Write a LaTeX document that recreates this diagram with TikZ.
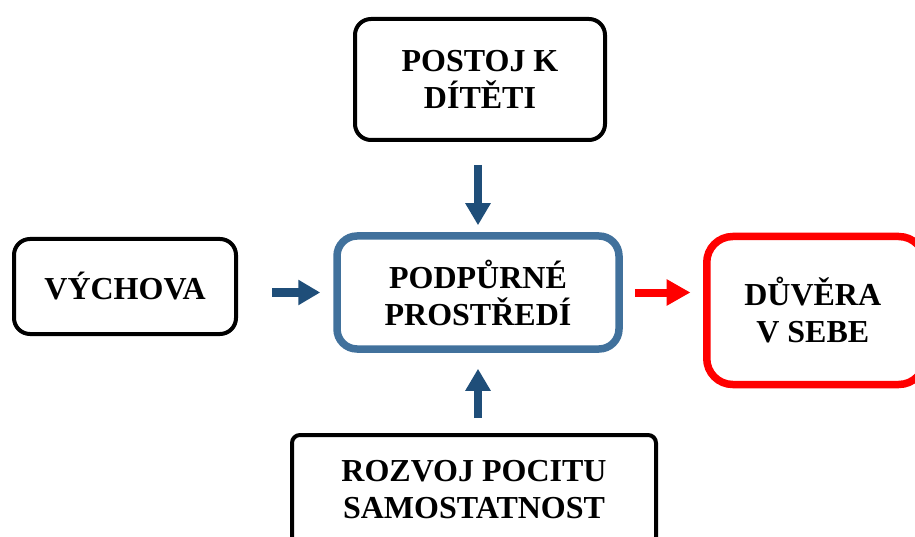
\documentclass[tikz,border=0pt]{standalone}
\usepackage{fontspec}
\setmainfont{Liberation Serif}
\usetikzlibrary{arrows.meta,calc}
\definecolor{boxblue}{RGB}{65,113,156}
\definecolor{arrowblue}{RGB}{31,78,121}
\definecolor{brightred}{RGB}{255,0,0}
\tikzset{
  lbl/.style={font=\fontsize{32}{37}\selectfont\bfseries, align=center, inner sep=0pt},
  blackbox/.style={lbl, draw=black, line width=4pt, rounded corners=16pt},
  bluebox/.style={lbl, draw=boxblue, line width=7.5pt, rounded corners=20pt},
  redbox/.style={lbl, draw=brightred, line width=7.5pt, rounded corners=26pt},
  bluearrow/.style={draw=arrowblue, line width=8.5pt, -{Triangle[width=24pt,length=22pt]}, color=arrowblue},
  redarrow/.style={draw=brightred, line width=8pt, -{Triangle[width=25pt,length=24pt]}, color=brightred}
}
\begin{document}
\begin{tikzpicture}[x=1pt,y=-1pt]
\useasboundingbox (0,0) rectangle (915,537);
\node[bluebox, minimum width=282pt, minimum height=113pt] (center) at (478,292.5) {PODPŮRNÉ\\PROSTŘEDÍ};
\node[blackbox, minimum width=250pt, minimum height=121pt] (top) at (480,79.5) {POSTOJ K\\DÍTĚTI};
\node[blackbox, minimum width=222pt, minimum height=95pt] (left) at (125,286.5) {VÝCHOVA};
\node[redbox, minimum width=218pt, minimum height=148pt] (right) at (815.75,310.5) {\hspace*{-6pt}DŮVĚRA\\\hspace*{-6pt}V SEBE};
\node[blackbox, rounded corners=8pt, minimum width=364pt, minimum height=110pt] (bottom) at (474,490) {ROZVOJ POCITU\\SAMOSTATNOST};
\draw[bluearrow, shorten <=23pt, shorten >=7pt] (center.north |- top.south) -- (center.north);
\draw[bluearrow, shorten <=34pt, shorten >=13pt] (left.east |- center.west) -- (center.west);
\draw[bluearrow, shorten <=15pt, shorten >=16pt] (center.south |- bottom.north) -- (center.south);
\draw[redarrow, shorten <=12pt, shorten >=12.5pt] (center.east) -- (center.east -| right.west);
\end{tikzpicture}
\end{document}
